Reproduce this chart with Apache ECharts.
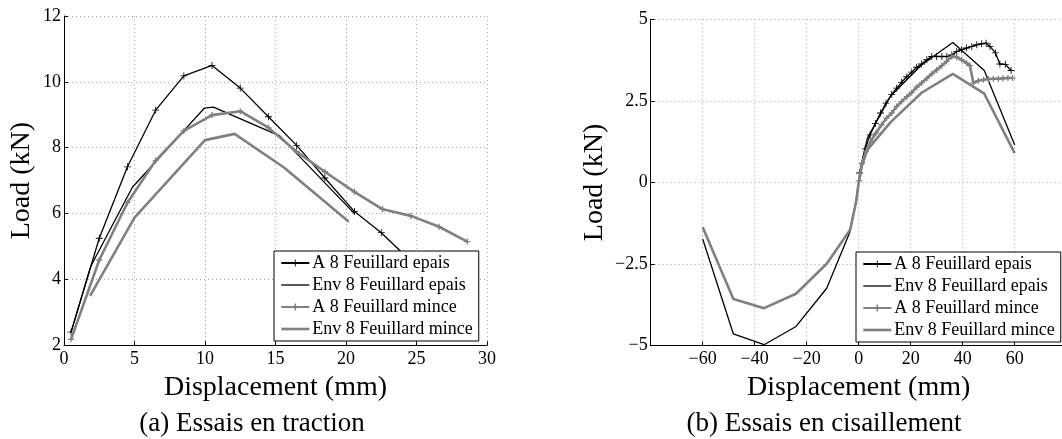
<!DOCTYPE html>
<html><head><meta charset="utf-8">
<script src="https://cdn.jsdelivr.net/npm/echarts@6/dist/echarts.min.js"></script>
<style>html,body{margin:0;padding:0;background:#fff}#c{width:1062px;height:439px}</style>
</head><body><div id="c"></div>
<script>
// ---------- data ----------
const seriesNames = ['A 8 Feuillard epais', 'Env 8 Feuillard epais', 'A 8 Feuillard mince', 'Env 8 Feuillard mince'];

// (a) Essais en traction : [displacement mm, load kN]
const tractionAEpais = [[0.5,2.4],[2.5,5.25],[4.5,7.42],[6.5,9.14],[8.5,10.18],[10.5,10.5],[12.5,9.81],[14.5,8.94],[16.5,8.07],[18.5,7.08],[20.6,6.06],[22.5,5.42],[24.5,4.6],[26.5,3.8]];
const tractionEnvEpais = [[0.5,2.4],[1.9,4.4],[4.85,6.8],[8.55,8.54],[9.95,9.2],[10.6,9.23],[15.3,8.36],[20.6,6.0]];
const tractionAMince = [[0.5,2.18],[2.5,4.59],[4.5,6.33],[6.5,7.61],[8.5,8.51],[10.5,8.99],[12.5,9.11],[14.5,8.61],[16.5,7.88],[18.5,7.27],[20.6,6.66],[22.6,6.13],[24.6,5.93],[26.6,5.6],[28.6,5.15]];
const tractionEnvMince = [[1.85,3.5],[5.0,5.88],[10.0,8.23],[12.1,8.42],[15.6,7.4],[20.2,5.75]];

// (b) Essais en cisaillement
const shearAEpais = [[0.3,0.29],[2.5,1.03],[4.4,1.46],[6.4,1.81],[8.4,2.13],[10.5,2.43],[12.7,2.7],[14.6,2.89],[16.5,3.07],[18.5,3.24],[20.4,3.38],[22.3,3.53],[24.2,3.63],[26.2,3.76],[28.1,3.86],[30.0,3.86],[32.0,3.86],[33.9,3.86],[35.8,3.91],[37.7,4.01],[39.6,4.07],[41.5,4.12],[43.5,4.17],[45.4,4.22],[47.3,4.25],[49.0,4.27],[50.5,4.17],[52.6,3.97],[54.3,3.63],[56.4,3.62],[58.6,3.43]];
const shearEnvEpais = [[-60,-1.73],[-48.2,-4.64],[-36.4,-4.97],[-24.1,-4.41],[-12.3,-3.24],[-3.3,-1.5],[-1.0,-0.55],[0,0],[1.0,0.55],[3.3,1.35],[12.3,2.65],[24.1,3.6],[36.2,4.29],[48.3,3.43],[60,1.15]];
const shearAMince = [[0.2,0.05],[1.3,0.59],[2.8,0.95],[4.6,1.26],[6.6,1.51],[8.8,1.77],[10.7,1.97],[12.7,2.13],[14.6,2.33],[16.5,2.48],[18.5,2.63],[20.4,2.76],[22.3,2.92],[24.2,3.05],[26.2,3.19],[28.1,3.33],[30.0,3.45],[31.9,3.58],[33.8,3.71],[35.8,3.86],[37.7,3.84],[39.6,3.76],[41.5,3.66],[42.8,3.58],[44.1,3.05],[46.0,3.12],[48.0,3.15],[49.9,3.17],[51.8,3.18],[53.7,3.18],[55.5,3.19],[57.4,3.2],[59.2,3.2]];
const shearEnvMince = [[-60,-1.37],[-48.2,-3.57],[-36.4,-3.85],[-24.1,-3.41],[-12.3,-2.49],[-3.3,-1.45],[-1.0,-0.6],[0,0],[1.0,0.45],[3.3,1.0],[12.3,1.85],[24.2,2.75],[36.2,3.33],[48.3,2.72],[60,0.9]];

// axis ranges [min, max, interval]
const tractionXRange = [0, 30, 5];
const tractionYRange = [2, 12, 2];
const shearXRange = [-80, 80, 20];
const shearYRange = [-5, 5, 2.5];

const captions = ['(a) Essais en traction', '(b) Essais en cisaillement'];
const xAxisTitle = 'Displacement (mm)';
const yAxisTitle = 'Load (kN)';

// ---------- styling ----------
const FONT = 'Liberation Serif';
const BLACK = '#000000';
const GRAY = '#808080';
const plusThin = 'path://M-1,-0.12L-0.12,-0.12L-0.12,-1L0.12,-1L0.12,-0.12L1,-0.12L1,0.12L0.12,0.12L0.12,1L-0.12,1L-0.12,0.12L-1,0.12Z';
const plusThick = 'path://M-1,-0.22L-0.22,-0.22L-0.22,-1L0.22,-1L0.22,-0.22L1,-0.22L1,0.22L0.22,0.22L0.22,1L-0.22,1L-0.22,0.22L-1,0.22Z';

const fmtMinus = v => (v < 0 ? '\u2212' + Math.abs(v) : String(v));

function makeX(range, gridIndex, hideEnds) {
  return {
    type: 'value', gridIndex, min: range[0], max: range[1], interval: range[2],
    name: xAxisTitle, nameLocation: 'middle', nameGap: 15,
    nameTextStyle: { fontFamily: FONT, fontSize: 28, color: '#000' },
    axisLine: { show: true, onZero: false, lineStyle: { color: '#000', width: 1 } },
    axisTick: { show: true, inside: true, length: 4, lineStyle: { color: '#000' } },
    axisLabel: { fontFamily: FONT, fontSize: 18, color: '#000', margin: 5, formatter: fmtMinus, showMinLabel: !hideEnds, showMaxLabel: !hideEnds },
    splitLine: { show: true, lineStyle: { color: '#a8a8a8', width: 1, type: [1, 3] } }
  };
}
function makeY(range, gridIndex, gap) {
  return {
    type: 'value', gridIndex, min: range[0], max: range[1], interval: range[2],
    name: yAxisTitle, nameLocation: 'middle', nameGap: gap, nameRotate: 90,
    nameTextStyle: { fontFamily: FONT, fontSize: 28, color: '#000' },
    axisLine: { show: true, onZero: false, lineStyle: { color: '#000', width: 1 } },
    axisTick: { show: true, inside: true, length: 4, lineStyle: { color: '#000' } },
    axisLabel: { fontFamily: FONT, fontSize: 18, color: '#000', margin: 3, formatter: fmtMinus },
    splitLine: { show: true, lineStyle: { color: '#a8a8a8', width: 1, type: [1, 3] } }
  };
}
function mk(name, data, idx, kind) {
  const isBlack = name.indexOf('epais') >= 0;
  const withMarker = kind === 'A';
  const color = isBlack ? BLACK : GRAY;
  return {
    type: 'line', name, data, xAxisIndex: idx, yAxisIndex: idx,
    showSymbol: withMarker, showAllSymbol: true,
    symbol: isBlack ? plusThin : plusThick,
    symbolSize: isBlack ? 7 : 6,
    lineStyle: { color, width: isBlack ? 1.3 : 2.6 },
    itemStyle: { color, borderWidth: 0 },
    emphasis: { disabled: true }, silent: true, z: isBlack ? 3 : 4
  };
}

const legendData = [
  { name: seriesNames[0] },
  { name: seriesNames[1], itemStyle: { opacity: 0 }, lineStyle: { color: BLACK, width: 1.3 } },
  { name: seriesNames[2] },
  { name: seriesNames[3], itemStyle: { opacity: 0 }, lineStyle: { color: GRAY, width: 2.6 } }
];
const legendCommon = {
  orient: 'vertical', data: legendData, itemWidth: 28, itemHeight: 9, itemGap: 4,
  padding: [3, 6, 3, 6], borderColor: '#000', borderWidth: 1, backgroundColor: '#fff',
  borderRadius: 0, selectedMode: false,
  textStyle: { fontFamily: FONT, fontSize: 18, color: '#000', lineHeight: 18, padding: [0, 0, 0, -2] }
};

const chart = echarts.init(document.getElementById('c'), null, { renderer: 'canvas' });
chart.setOption({
  animation: false,
  backgroundColor: '#fff',
  grid: [
    { left: 64, top: 16, width: 423, height: 329.3, containLabel: false, outerBoundsMode: 'none' },
    { left: 650.7, top: 19.3, width: 416, height: 326.4, containLabel: false, outerBoundsMode: 'none' }
  ],
  xAxis: [makeX(tractionXRange, 0, false), makeX(shearXRange, 1, true)],
  yAxis: [makeY(tractionYRange, 0, 28), makeY(shearYRange, 1, 42)],
  legend: [
    Object.assign({}, legendCommon, { left: 274, top: 251 }),
    Object.assign({}, legendCommon, { left: 856, top: 252 })
  ],
  series: [
    mk(seriesNames[0], tractionAEpais, 0, 'A'),
    mk(seriesNames[1], tractionEnvEpais, 0, 'Env'),
    mk(seriesNames[2], tractionAMince, 0, 'A'),
    mk(seriesNames[3], tractionEnvMince, 0, 'Env'),
    mk(seriesNames[0], shearAEpais, 1, 'A'),
    mk(seriesNames[1], shearEnvEpais, 1, 'Env'),
    mk(seriesNames[2], shearAMince, 1, 'A'),
    mk(seriesNames[3], shearEnvMince, 1, 'Env')
  ],
  graphic: [
    { type: 'text', x: 252, y: 424, style: { text: captions[0], font: '27px "Liberation Serif"', fill: '#000', textAlign: 'center', textVerticalAlign: 'middle' } },
    { type: 'text', x: 824, y: 424, style: { text: captions[1], font: '27px "Liberation Serif"', fill: '#000', textAlign: 'center', textVerticalAlign: 'middle' } }
  ]
});
</script></body></html>
